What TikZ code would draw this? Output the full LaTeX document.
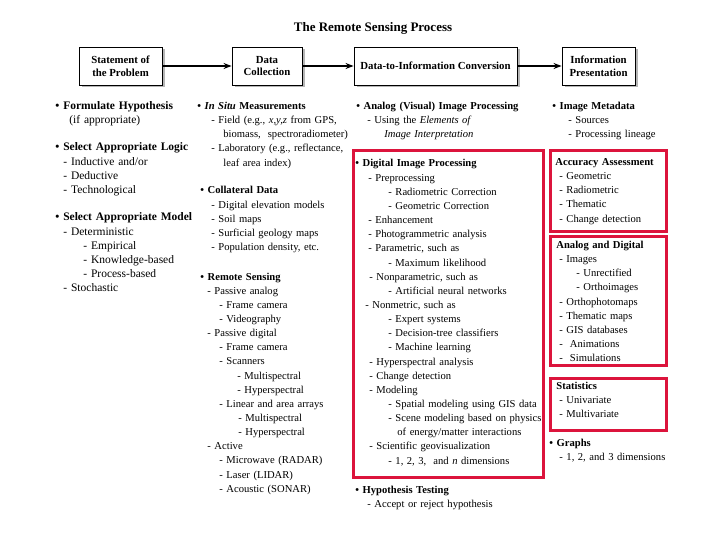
\documentclass[tikz,border=0pt]{standalone}
\usepackage{fontspec}
\setmainfont{Liberation Serif}
\usepackage{xcolor}
\usepackage{tikz}
\usetikzlibrary{arrows.meta,shadows}
\definecolor{marcorojo}{RGB}{220,20,60}
\definecolor{sombra}{RGB}{110,110,110}
\newcommand{\sang}[1]{\hspace*{#1pt}}

\begin{document}
\begin{tikzpicture}[x=1pt, y=-1pt, >=Stealth, line width=0.8pt,
    caja/.style={draw=black, fill=white, line width=0.9pt, align=center, inner sep=2pt,
      minimum height=38pt, font=\fontsize{10.8}{12.7}\selectfont\bfseries,
      drop shadow={shadow xshift=2.5pt, shadow yshift=-2.5pt, fill=sombra, opacity=0.5}},
    flecha/.style={-{Stealth[length=8pt,width=6pt]}, line width=1.2pt},
    lista/.style={anchor=base west, inner sep=0pt, text width=190pt, align=left,
      font=\fontsize{10.6}{14.15}\selectfont},
    listaancha/.style={lista, font=\fontsize{11.5}{14.15}\selectfont},
    marco/.style={draw=marcorojo, line width=3pt}]
    \useasboundingbox (0,0) rectangle (720,540);
    % titulo y cajas del proceso
    \node[font=\fontsize{13}{15}\selectfont\bfseries] (titulo) at (373,28.5) {The Remote Sensing Process};
    \node[caja, minimum width=83pt] (problema) at (120.5,66) {Statement of\\the Problem};
    \node[caja, minimum width=70pt] (datos) at (267,66) {Data\\Collection};
    \node[caja, minimum width=163pt] (conversion) at (435.5,66) {Data-to-Information Conversion};
    \node[caja, minimum width=73pt] (presentacion) at (598.5,66) {Information\\Presentation};
    \draw[flecha] (problema) -- (datos);
    \draw[flecha] (datos) -- (conversion);
    \draw[flecha] (conversion) -- (presentacion);
    % marcos rojos
    \draw[marco] (353.5,150.5) rectangle (543.5,477.5);
    \draw[marco] (550.5,150.5) rectangle (666.5,231.5);
    \draw[marco] (550.5,236.5) rectangle (666.5,365.5);
    \draw[marco] (550.5,378.5) rectangle (666.5,430.5);
    % columna 1: planteamiento
    \node[listaancha] (hipotesis) at (55,109.5) {\textbf{\textbullet\ Formulate Hypothesis}\\
      \sang{14}(if appropriate)};
    \node[listaancha] (logica) at (55,151) {\textbf{\textbullet\ Select Appropriate Logic}\\
      \sang{8}- Inductive and/or\\
      \sang{8}- Deductive\\
      \sang{8}- Technological};
    \node[listaancha] (modelo) at (55,221) {\textbf{\textbullet\ Select Appropriate Model}\\
      \sang{8}- Deterministic\\
      \sang{28}- Empirical\\
      \sang{28}- Knowledge-based\\
      \sang{28}- Process-based\\
      \sang{8}- Stochastic};
    % columna 2: coleccion de datos
    \node[lista] (insitu) at (197,109.5) {\textbf{\textbullet\ \textit{In Situ} Measurements}\\
      \sang{14}- Field (e.g., \textit{x,y,z} from GPS,\\
      \sang{26}biomass,\ \ spectroradiometer)\\
      \sang{14}- Laboratory (e.g., reflectance,\\
      \sang{26}leaf area index)};
    \node[lista] (colateral) at (200,194) {\textbf{\textbullet\ Collateral Data}\\
      \sang{11}- Digital elevation models\\
      \sang{11}- Soil maps\\
      \sang{11}- Surficial geology maps\\
      \sang{11}- Population density, etc.};
    \node[lista] (sensores) at (200,280) {\textbf{\textbullet\ Remote Sensing}\\
      \sang{7}- Passive analog\\
      \sang{19}- Frame camera\\
      \sang{19}- Videography\\
      \sang{7}- Passive digital\\
      \sang{19}- Frame camera\\
      \sang{19}- Scanners\\
      \sang{37}- Multispectral\\
      \sang{37}- Hyperspectral\\
      \sang{19}- Linear and area arrays\\
      \sang{38}- Multispectral\\
      \sang{38}- Hyperspectral\\
      \sang{7}- Active\\
      \sang{19}- Microwave (RADAR)\\
      \sang{19}- Laser (LIDAR)\\
      \sang{19}- Acoustic (SONAR)};
    % columna 3: conversion
    \node[lista] (analogo) at (356,109.5) {\textbf{\textbullet\ Analog (Visual) Image Processing}\\
      \sang{11}- Using the \textit{Elements of}\\
      \sang{28}\textit{Image Interpretation}};
    \node[lista] (digital) at (355,167) {\textbf{\textbullet\ Digital Image Processing}\\
      \sang{13}- Preprocessing\\
      \sang{33}- Radiometric Correction\\
      \sang{33}- Geometric Correction\\
      \sang{13}- Enhancement\\
      \sang{13}- Photogrammetric analysis\\
      \sang{13}- Parametric, such as\\
      \sang{33}- Maximum likelihood\\
      \sang{14}- Nonparametric, such as\\
      \sang{33}- Artificial neural networks\\
      \sang{10}- Nonmetric, such as\\
      \sang{33}- Expert systems\\
      \sang{33}- Decision-tree classifiers\\
      \sang{33}- Machine learning\\
      \sang{14}- Hyperspectral analysis\\
      \sang{14}- Change detection\\
      \sang{14}- Modeling\\
      \sang{33}- Spatial modeling using GIS data\\
      \sang{33}- Scene modeling based on physics\\
      \sang{42}of energy/matter interactions\\
      \sang{14}- Scientific geovisualization\\
      \sang{33}- 1, 2, 3,\ \ and \textit{n} dimensions};
    \node[lista] (prueba) at (355,493) {\textbf{\textbullet\ Hypothesis Testing}\\
      \sang{12}- Accept or reject hypothesis};
    % columna 4: presentacion
    \node[lista] (metadatos) at (552,109.5) {\textbf{\textbullet\ Image Metadata}\\
      \sang{16}- Sources\\
      \sang{16}- Processing lineage};
    \node[lista] (exactitud) at (555,165.5) {\textbf{Accuracy Assessment}\\
      \sang{4}- Geometric\\
      \sang{4}- Radiometric\\
      \sang{4}- Thematic\\
      \sang{4}- Change detection};
    \node[lista] (analogdig) at (556,248.5) {\textbf{Analog and Digital}\\
      \sang{3}- Images\\
      \sang{20}- Unrectified\\
      \sang{20}- Orthoimages\\
      \sang{3}- Orthophotomaps\\
      \sang{3}- Thematic maps\\
      \sang{3}- GIS databases\\
      \sang{3}-\ \ Animations\\
      \sang{3}-\ \ Simulations};
    \node[lista] (estadistica) at (556,389.5) {\textbf{Statistics}\\
      \sang{3}- Univariate\\
      \sang{3}- Multivariate};
    \node[lista] (graficos) at (549,446) {\textbf{\textbullet\ Graphs}\\
      \sang{10}- 1, 2, and 3 dimensions};
\end{tikzpicture}
\end{document}
